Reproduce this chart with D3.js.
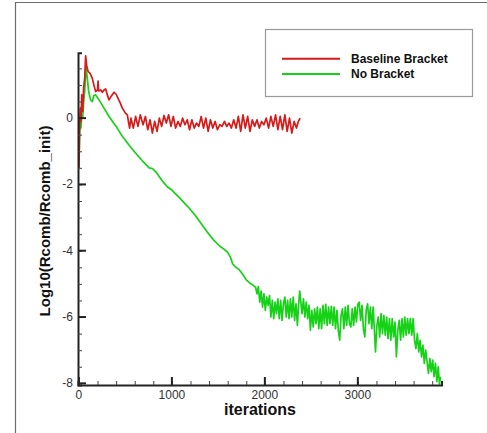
<!DOCTYPE html>
<html>
<head>
<meta charset="utf-8">
<script src="https://cdn.jsdelivr.net/npm/d3@7"></script>
<style>
  body { margin: 0; background: #fff; }
  svg { font-family: "Liberation Sans", Arial, Helvetica, sans-serif; }
</style>
</head>
<body>
<svg width="487" height="433"></svg>
<script>
// data
var seriesNames = ["Baseline Bracket", "No Bracket"];
var seriesColors = ["#d71a1a", "#16d216"];

var baselineIter = [0, 8, 15, 22, 30, 40, 50, 62, 72, 85, 100, 120, 144, 165, 180, 200, 206, 212, 235, 252, 270, 288, 305, 324, 345, 378, 400, 420, 445, 467, 500, 521, 535, 545,
  560, 585, 610, 635, 660, 690, 715, 740, 765, 790, 815, 840, 865, 890, 915, 940, 965, 990, 1015, 1040, 1065, 1090, 1115, 1140, 1165, 1190, 1215, 1240, 1265, 1290, 1315, 1340, 1365, 1390, 1415, 1440, 1465, 1490, 1515, 1540, 1565, 1590, 1615, 1640, 1665, 1690, 1715, 1740, 1765, 1790, 1815, 1840, 1865, 1890, 1915, 1940, 1965, 1990, 2015, 2040, 2065, 2090, 2115, 2140, 2165, 2190, 2215, 2240, 2265, 2290, 2315, 2340, 2360, 2380];
var baselineRes = [-1.50, -0.20, 0.30, -0.10, 0.70, 0.20, 0.90, 1.20, 1.88, 1.55, 1.40, 1.35, 1.20, 0.95, 0.80, 0.85, 1.12, 0.82, 0.85, 0.78, 0.85, 0.88, 0.70, 0.55, 0.65, 0.78, 0.72, 0.60, 0.45, 0.30, 0.15, 0.10, -0.15, -0.30,
  0.00, -0.30, 0.05, -0.25, 0.10, -0.20, 0.05, -0.35, -0.05, -0.45, -0.10, -0.40, 0.00, -0.25, 0.08, -0.15, 0.10, -0.25, 0.05, -0.30, -0.10, -0.25, 0.00, -0.20, -0.05, -0.35, -0.05, -0.30, -0.15, -0.25, 0.05, -0.30, 0.00, -0.40, -0.05, -0.30, -0.10, -0.35, -0.20, -0.25, -0.10, -0.25, -0.15, -0.30, -0.05, -0.30, 0.05, -0.40, 0.10, -0.30, 0.05, -0.40, -0.05, -0.25, -0.05, -0.30, -0.10, -0.20, 0.00, -0.30, 0.05, -0.25, 0.10, -0.35, 0.05, -0.35, 0.10, -0.40, 0.00, -0.45, -0.10, -0.30, -0.10, 0.00];

var noBracketIter = [0, 8, 15, 22, 30, 40, 50, 62, 75, 90, 105, 125, 145, 160, 180, 216, 270, 324, 400, 467, 540, 611, 680, 755, 790, 827, 890, 953, 1000, 1070, 1130, 1187, 1250, 1320, 1384, 1450, 1510, 1560, 1600, 1630, 1654, 1690, 1726, 1760, 1800, 1840, 1870, 1890,
  1900, 1915, 1930, 1945, 1960, 1975, 1990, 2005, 2020, 2035,
  2050, 2065, 2080, 2095, 2110, 2125, 2140, 2155, 2170, 2185,
  2200, 2215, 2230, 2245, 2260, 2275, 2290, 2305, 2320, 2335,
  2350, 2365, 2375, 2385, 2400, 2415, 2430, 2445, 2460, 2475,
  2490, 2505, 2520, 2535, 2550, 2565, 2580, 2595, 2610, 2625,
  2640, 2655, 2670, 2685, 2700, 2715, 2730, 2745, 2760, 2775,
  2790, 2805, 2820, 2835, 2850, 2865, 2880, 2895, 2910, 2925,
  2940, 2955, 2970, 2985, 3000, 3015, 3030, 3045, 3060, 3075,
  3090, 3105, 3120, 3135, 3150, 3165, 3180, 3190, 3205, 3220,
  3235, 3250, 3265, 3280, 3295, 3310, 3325, 3340, 3355, 3370,
  3385, 3400, 3415, 3430, 3445, 3460, 3475, 3490, 3505, 3520,
  3535, 3550, 3565, 3580, 3595, 3610, 3625, 3640, 3655, 3670,
  3685, 3700, 3715, 3730, 3745, 3760, 3775, 3790, 3805, 3820,
  3835, 3850, 3865, 3878, 3890];
var noBracketRes = [-1.50, -0.40, -0.05, -0.30, 0.10, 0.00, 0.45, 0.80, 1.58, 1.20, 0.80, 0.55, 0.50, 0.68, 0.70, 0.55, 0.30, 0.05, -0.25, -0.55, -0.82, -1.06, -1.28, -1.50, -1.52, -1.62, -1.87, -2.08, -2.17, -2.37, -2.55, -2.72, -2.93, -3.20, -3.45, -3.68, -3.85, -3.95, -4.05, -4.20, -4.40, -4.50, -4.58, -4.70, -4.88, -4.98, -5.03, -5.08,
  -5.10, -5.30, -5.08, -5.55, -5.22, -5.70, -5.30, -5.80, -5.40, -5.65,
  -5.35, -6.00, -5.50, -6.05, -5.55, -5.90, -5.45, -6.05, -5.50, -6.10,
  -5.60, -5.40, -6.00, -5.50, -6.05, -5.45, -6.00, -5.40, -6.10, -5.60,
  -6.25, -5.55, -5.22, -5.50, -5.90, -5.45, -6.00, -5.55, -6.05, -5.65,
  -6.40, -5.80, -6.30, -5.75, -6.20, -5.70, -6.35, -5.75, -6.35, -5.65,
  -6.20, -5.62, -6.25, -5.70, -6.20, -5.68, -6.25, -5.70, -6.35, -5.80,
  -6.40, -6.70, -5.95, -5.75, -6.35, -5.70, -6.25, -5.65, -6.20, -6.30,
  -5.75, -6.25, -5.70, -6.15, -5.62, -5.55, -6.10, -5.65, -6.35, -6.60,
  -5.80, -5.60, -6.20, -5.70, -6.35, -5.70, -6.50, -7.05, -6.25, -6.00,
  -6.60, -5.90, -6.50, -5.95, -6.55, -6.00, -6.65, -6.05, -6.70, -6.05,
  -6.60, -6.15, -7.20, -6.40, -6.10, -6.70, -6.05, -6.60, -6.00, -6.55,
  -6.05, -6.50, -6.05, -6.55, -6.05, -6.70, -6.95, -6.50, -7.05, -6.70,
  -7.20, -6.85, -7.40, -7.00, -7.35, -7.70, -7.25, -7.65, -7.30, -7.80,
  -7.40, -7.95, -7.50, -8.02, -7.80];

var xMajor = [0, 1000, 2000, 3000];
var yMajor = [0, -2, -4, -6, -8];

var svg = d3.select("svg");

// outer frame (top and left edges visible)
svg.append("path")
  .attr("d", "M15.5,433 V2.5 H487")
  .attr("fill", "none")
  .attr("stroke", "#6e6e6e")
  .attr("stroke-width", 1.2);

var x = d3.scaleLinear().domain([-10, 3900]).range([78, 441.5]);
var y = d3.scaleLinear().domain([-8.05, 1.97]).range([385, 52.8]);

svg.append("clipPath").attr("id", "plotclip")
  .append("rect").attr("x", 78).attr("y", 50).attr("width", 366).attr("height", 336);

var line = d3.line()
  .x(function(d) { return x(d[0]); })
  .y(function(d) { return y(d[1]); });

var series = [
  d3.zip(baselineIter, baselineRes),
  d3.zip(noBracketIter, noBracketRes)
];

var g = svg.append("g").attr("clip-path", "url(#plotclip)");
// green first, red on top
[1, 0].forEach(function(i) {
  g.append("path")
    .datum(series[i])
    .attr("fill", "none")
    .attr("stroke", seriesColors[i])
    .attr("stroke-width", 1.7)
    .attr("stroke-linejoin", "round")
    .attr("d", line);
});

// axes, ticks point inward
var xAxis = d3.axisBottom(x)
  .tickValues(d3.range(0, 3900, 200))
  .tickSize(-4)
  .tickFormat("");
var xAxisG = svg.append("g").attr("transform", "translate(0," + y.range()[0] + ")").call(xAxis);

var yAxis = d3.axisLeft(y)
  .tickValues(d3.range(-8, 2, 0.5))
  .tickSize(-4)
  .tickFormat("");
var yAxisG = svg.append("g").attr("transform", "translate(" + x.range()[0] + ",0)").call(yAxis);

[xAxisG, yAxisG].forEach(function(a) {
  a.select(".domain").attr("stroke", "#222").attr("stroke-width", 2);
  a.selectAll(".tick line").attr("stroke", "#444").attr("stroke-width", 1);
});

// major ticks
svg.selectAll(".xmaj").data(xMajor).enter().append("line")
  .attr("x1", function(d) { return x(d); }).attr("x2", function(d) { return x(d); })
  .attr("y1", y.range()[0]).attr("y2", y.range()[0] - 8)
  .attr("stroke", "#222").attr("stroke-width", 2);
svg.selectAll(".xlab").data(xMajor).enter().append("text")
  .attr("x", function(d) { return x(d); })
  .attr("y", 399)
  .attr("text-anchor", "middle")
  .attr("font-size", 12)
  .attr("fill", "#333")
  .text(function(d) { return d; });

svg.selectAll(".ymaj").data(yMajor).enter().append("line")
  .attr("x1", x.range()[0]).attr("x2", x.range()[0] + 8)
  .attr("y1", function(d) { return y(d); }).attr("y2", function(d) { return y(d); })
  .attr("stroke", "#222").attr("stroke-width", 2);
svg.selectAll(".ylab").data(yMajor).enter().append("text")
  .attr("x", 73)
  .attr("y", function(d) { return y(d) + 4; })
  .attr("text-anchor", "end")
  .attr("font-size", 12)
  .attr("fill", "#333")
  .text(function(d) { return d; });

// axis titles
svg.append("text")
  .attr("x", 260).attr("y", 415)
  .attr("text-anchor", "middle")
  .attr("font-size", 16).attr("font-weight", "bold")
  .attr("fill", "#111")
  .text("iterations");

svg.append("text")
  .attr("transform", "translate(50,221) rotate(-90)")
  .attr("text-anchor", "middle")
  .attr("font-size", 15).attr("font-weight", "bold")
  .attr("fill", "#111")
  .text("Log10(Rcomb/Rcomb_init)");

// legend
var legend = svg.append("g");
legend.append("rect")
  .attr("x", 265.5).attr("y", 29.5).attr("width", 207).attr("height", 67)
  .attr("fill", "#fff").attr("stroke", "#9a9a9a").attr("stroke-width", 1.2);
seriesNames.forEach(function(name, i) {
  var ly = 58.7 + i * 15.3;
  legend.append("line")
    .attr("x1", 282).attr("x2", 340).attr("y1", ly).attr("y2", ly)
    .attr("stroke", seriesColors[i]).attr("stroke-width", 2);
  legend.append("text")
    .attr("x", 351).attr("y", ly + 4)
    .attr("font-size", 12).attr("font-weight", "bold")
    .attr("fill", "#111")
    .text(name);
});
</script>
</body>
</html>
